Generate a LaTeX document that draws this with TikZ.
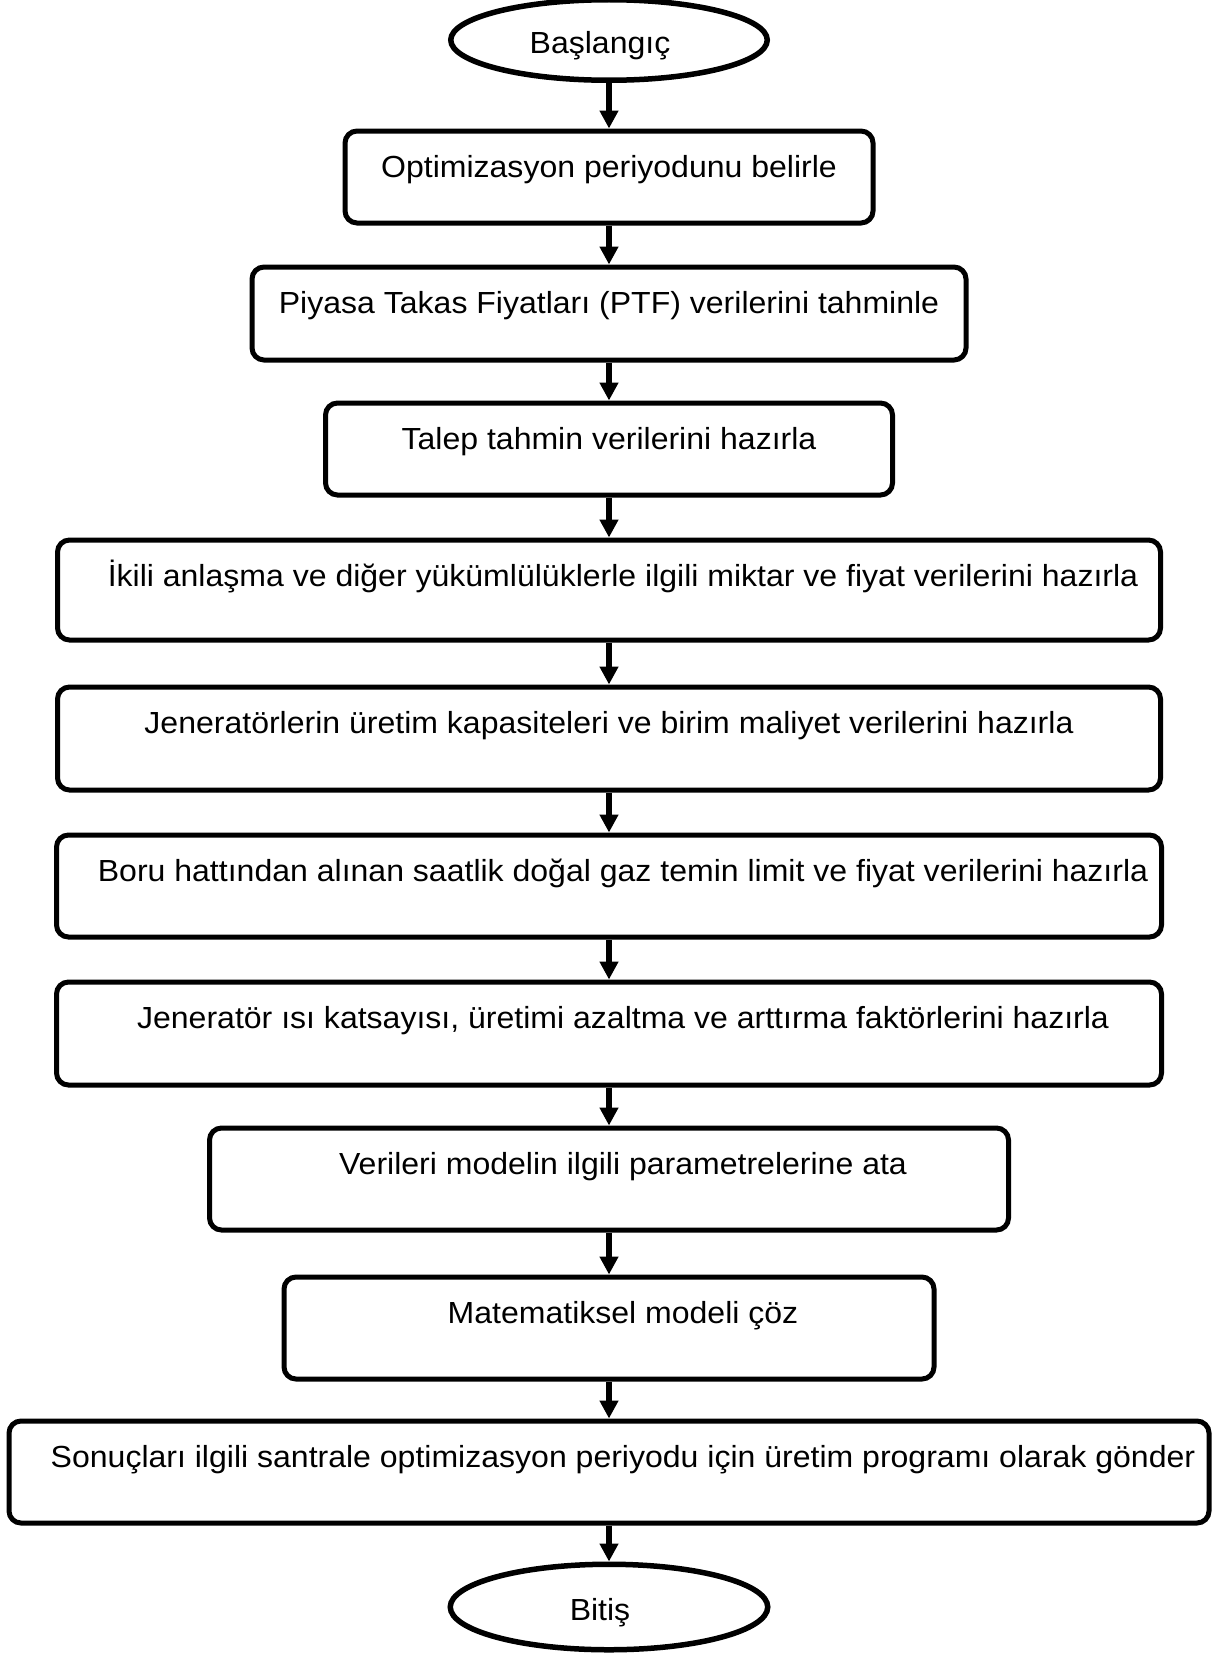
\documentclass[tikz,border=0pt]{standalone}
\usepackage{fontspec}
\setmainfont{Liberation Sans}[FakeStretch=1.05]
\usetikzlibrary{shapes.geometric, arrows.meta}
\newcommand{\flowfont}{\fontsize{30.5}{36}\selectfont}
\tikzset{
  stepbox/.style={draw, line width=5pt, rounded corners=12pt, anchor=north,
    font=\flowfont, inner ysep=0pt, text height=46pt},
  indented/.style={execute at begin node={\hspace{28pt}}},
  terminal/.style={draw, ellipse, line width=5.5pt, font=\flowfont,
    inner sep=0pt, text height=30pt, text depth=4pt,
    execute at end node={\hspace{18pt}}},
  flow/.style={-{Triangle[width=18pt, length=18pt]}, line width=5.5pt}
}

\begin{document}
\begin{tikzpicture}[x=1pt, y=-1pt]
        \useasboundingbox (0,0) rectangle (1227,1654);

        % start and end
        \node[terminal, minimum width=316.5pt, minimum height=80.5pt]
          (start) at (609,40) {Başlangıç};
        \node[terminal, minimum width=317.5pt, minimum height=85.5pt]
          (stop) at (609,1607) {Bitiş};

        % process steps (anchored at their top edge)
        \node[stepbox, minimum width=528pt, text depth=46pt] (b1) at (609,128.5)
          {Optimizasyon periyodunu belirle};
        \node[stepbox, minimum width=714pt, text depth=47pt] (b2) at (609,264.5)
          {Piyasa Takas Fiyatları (PTF) verilerini tahminle};
        \node[stepbox, minimum width=567pt, text depth=46pt] (b3) at (609,400.5)
          {Talep tahmin verilerini hazırla};
        \node[stepbox, indented, minimum width=1103pt, text depth=54pt] (b4) at (609,537.5)
          {İkili anlaşma ve diğer yükümlülüklerle ilgili miktar ve fiyat verilerini hazırla};
        \node[stepbox, minimum width=1103pt, text depth=57pt] (b5) at (609,684.5)
          {Jeneratörlerin üretim kapasiteleri ve birim maliyet verilerini hazırla};
        \node[stepbox, indented, minimum width=1105pt, text depth=56pt] (b6) at (609,832.5)
          {Boru hattından alınan saatlik doğal gaz temin limit ve fiyat verilerini hazırla};
        \node[stepbox, indented, minimum width=1105pt, text depth=57pt] (b7) at (609,979.5)
          {Jeneratör ısı katsayısı, üretimi azaltma ve arttırma faktörlerini hazırla};
        \node[stepbox, indented, minimum width=799pt, text depth=56pt] (b8) at (609,1125.5)
          {Verileri modelin ilgili parametrelerine ata};
        \node[stepbox, indented, minimum width=650pt, text depth=56pt] (b9) at (609,1274.5)
          {Matematiksel modeli çöz};
        \node[stepbox, indented, minimum width=1200pt, text depth=56pt] (b10) at (609,1418.5)
          {Sonuçları ilgili santrale optimizasyon periyodu için üretim programı olarak gönder};

        % connectors
        \foreach \a/\b in {start/b1, b1/b2, b2/b3, b3/b4, b4/b5, b5/b6,
                           b6/b7, b7/b8, b8/b9, b9/b10, b10/stop}{
          \draw[flow] (\a.south) -- (\b.north);
        }
      \end{tikzpicture}
\end{document}
